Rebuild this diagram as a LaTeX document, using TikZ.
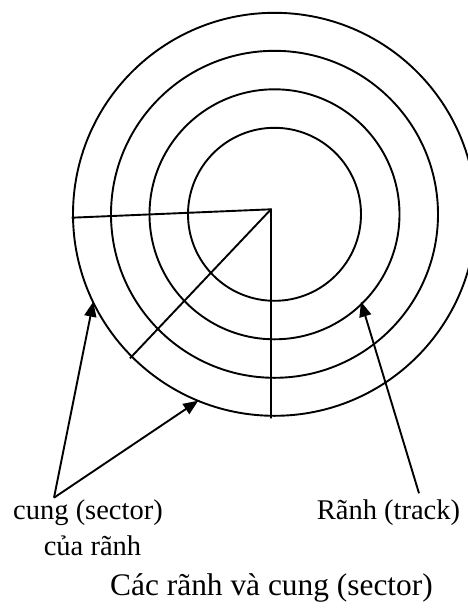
\documentclass[tikz,border=0pt]{standalone}
\usepackage{fontspec}
\setmainfont{Liberation Serif}
\usetikzlibrary{arrows.meta}
\begin{document}
\begin{tikzpicture}[x=1pt,y=-1pt,
  trk/.style={line width=1.9pt},
  ptr/.style={line width=1.9pt,-{Triangle[length=15pt,width=12pt]}},
  lbl/.style={font=\fontsize{28.5}{34}\selectfont,inner sep=0pt,align=center}]
\useasboundingbox (0,0) rectangle (468,614);
\coordinate (c) at (274.5,214.3);
\foreach \r in {86.5,125,163.5,201.5} \draw[trk] (c) circle[radius=\r];
\coordinate (o) at (271,209.3);
\coordinate (s1) at (71.7,217.7);
\coordinate (s2) at (130,358.3);
\coordinate (s3) at (271,418.3);
\draw[trk] (s1) -- (o) -- (s3);
\draw[trk] (o) -- (s2);
\node[lbl] (sec) at (88,513) {cung (sector)};
\node[lbl] (sec2) at (92.5,546) {của rãnh};
\node[lbl] (trkl) at (388.5,513) {Rãnh (track)};
\node[lbl,font=\fontsize{31.4}{36}\selectfont] (cap) at (271.5,587.5) {Các rãnh và cung (sector)};
\coordinate (apex) at (54,497.7);
\coordinate (t1) at (93.3,301.7);
\coordinate (t2) at (198.3,400.7);
\coordinate (t3tail) at (419,493.3);
\coordinate (t3) at (361,301.7);
\draw[ptr] (apex) -- (t1);
\draw[ptr] (apex) -- (t2);
\draw[ptr] (t3tail) -- (t3);
\end{tikzpicture}
\end{document}
